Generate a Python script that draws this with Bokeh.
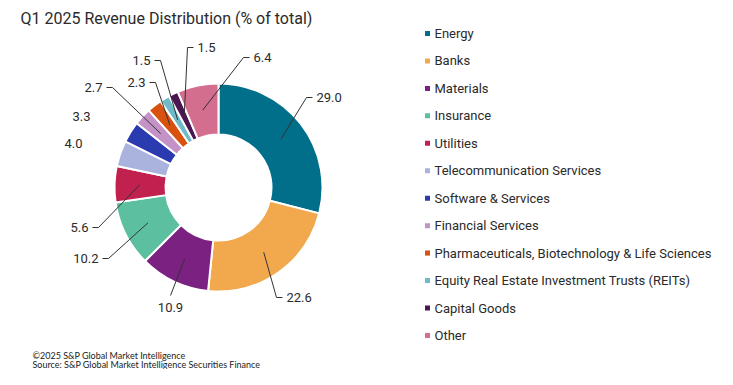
import math
from bokeh.plotting import figure
from bokeh.models import Range1d, ColumnDataSource
from bokeh.core.properties import value
from bokeh.embed import file_html
from bokeh.resources import INLINE

# ---------------- data ----------------
title = "Q1 2025 Revenue Distribution (% of total)"
sectors = [
    "Energy", "Banks", "Materials", "Insurance", "Utilities",
    "Telecommunication Services", "Software & Services", "Financial Services",
    "Pharmaceuticals, Biotechnology & Life Sciences",
    "Equity Real Estate Investment Trusts (REITs)", "Capital Goods", "Other",
]
shares = [29.0, 22.6, 10.9, 10.2, 5.6, 4.0, 3.3, 2.7, 2.3, 1.5, 1.5, 6.4]
colors = ["#016F8A", "#F2A94E", "#7A2182", "#5CBFA0", "#C0214E", "#AAB3DE",
          "#2A3BAF", "#C592C8", "#D8510E", "#70B9C8", "#4A1752", "#D36E8F"]
footnotes = ["©2025 S&P Global Market Intelligence",
             "Source: S&P Global Market Intelligence Securities Finance"]

# ---------------- layout ----------------
W, H = 717, 369
FONT = "Roboto"
TXT = "#2a2a2a"

def to_data(x_img, y_img):
    return x_img, H - y_img

cx, cy = to_data(218, 187)
R_OUT, R_IN, R_ANCHOR = 104, 53, 79

# label layout: elbow offsets (px, y downward) from donut centre and side
label_elbow = [(88, -90), (58, 110), (-48, 108), (-110, 71), (-120, 40), None, None,
               (-106, -100), (-63, -105), (-58, -127), (-31, -140), (25, -130)]
label_side = [1, 1, 0, -1, -1, -1, -1, -1, -1, -1, 1, 1]
label_free = {5: (-136, -44), 6: (-128, -71)}  # labels without connectors

p = figure(width=W, height=H, x_range=Range1d(0, W), y_range=Range1d(0, H),
           output_backend="svg", toolbar_location=None, min_border=0,
           x_axis_location=None, y_axis_location=None)
p.grid.visible = False
p.outline_line_color = None
p.background_fill_color = "white"
p.border_fill_color = "white"

total = sum(shares)
starts, ends, mids = [], [], []
c = 0.0
for s in shares:
    a0 = math.pi / 2 - 2 * math.pi * c / total
    c += s
    a1 = math.pi / 2 - 2 * math.pi * c / total
    starts.append(a0)
    ends.append(a1)
    mids.append((a0 + a1) / 2)

src = ColumnDataSource(dict(start=starts, end=ends, color=colors))
p.annular_wedge(x=cx, y=cy, inner_radius=R_IN, outer_radius=R_OUT,
                start_angle="start", end_angle="end", direction="clock",
                fill_color="color", line_color="white", line_width=2, source=src)

# connectors and value labels
lx, ly, lt, la = [], [], [], []
cxs, cys = [], []
for i, s in enumerate(shares):
    txt = f"{s:.1f}"
    ax = cx + R_ANCHOR * math.cos(mids[i])
    ay = cy + R_ANCHOR * math.sin(mids[i])
    side = label_side[i]
    if label_elbow[i] is None:
        dx, dy = label_free[i]
        lx.append(cx + dx); ly.append(cy - dy); lt.append(txt)
        la.append("right" if side < 0 else "left")
        continue
    ex, ey = cx + label_elbow[i][0], cy - label_elbow[i][1]
    if side == 0:
        cxs.append([ax, ex]); cys.append([ay, ey])
        lx.append(ex); ly.append(ey - 12); lt.append(txt); la.append("center")
    else:
        hx = ex + side * 6
        cxs.append([ax, ex, hx]); cys.append([ay, ey, ey])
        lx.append(ex + side * 10); ly.append(ey); lt.append(txt)
        la.append("left" if side > 0 else "right")

p.multi_line(xs=cxs, ys=cys, line_color="#333333", line_width=1)
p.text(x=lx, y=ly, text=lt, text_align=la, text_baseline="middle",
       text_font=value(FONT), text_font_size="13px", text_color=TXT)

# legend
leg_x_marker, leg_x_text = to_data(427, 0)[0], to_data(434, 0)[0]
leg_y = [to_data(0, 33 + i * 27.45)[1] for i in range(len(sectors))]
p.scatter(x=[leg_x_marker] * len(sectors), y=leg_y, marker="square", size=5,
          fill_color=colors, line_color=None)
p.text(x=[leg_x_text] * len(sectors), y=leg_y, text=sectors, text_align="left",
       text_baseline="middle", text_font=value(FONT), text_font_size="13px",
       text_color=TXT)

# title
tx, ty = to_data(20, 18)
p.text(x=[tx], y=[ty], text=[title], text_align="left", text_baseline="middle",
       text_font=value(FONT), text_font_size="16px", text_color=TXT)

# footnotes
fx, fy1 = to_data(32, 355)
_, fy2 = to_data(32, 364)
p.text(x=[fx, fx], y=[fy1, fy2], text=footnotes, text_align="left",
       text_baseline="middle", text_font=value("Lato"), text_font_size="9px",
       text_color="#222222")

open("out.html", "w").write(file_html(p, INLINE))
